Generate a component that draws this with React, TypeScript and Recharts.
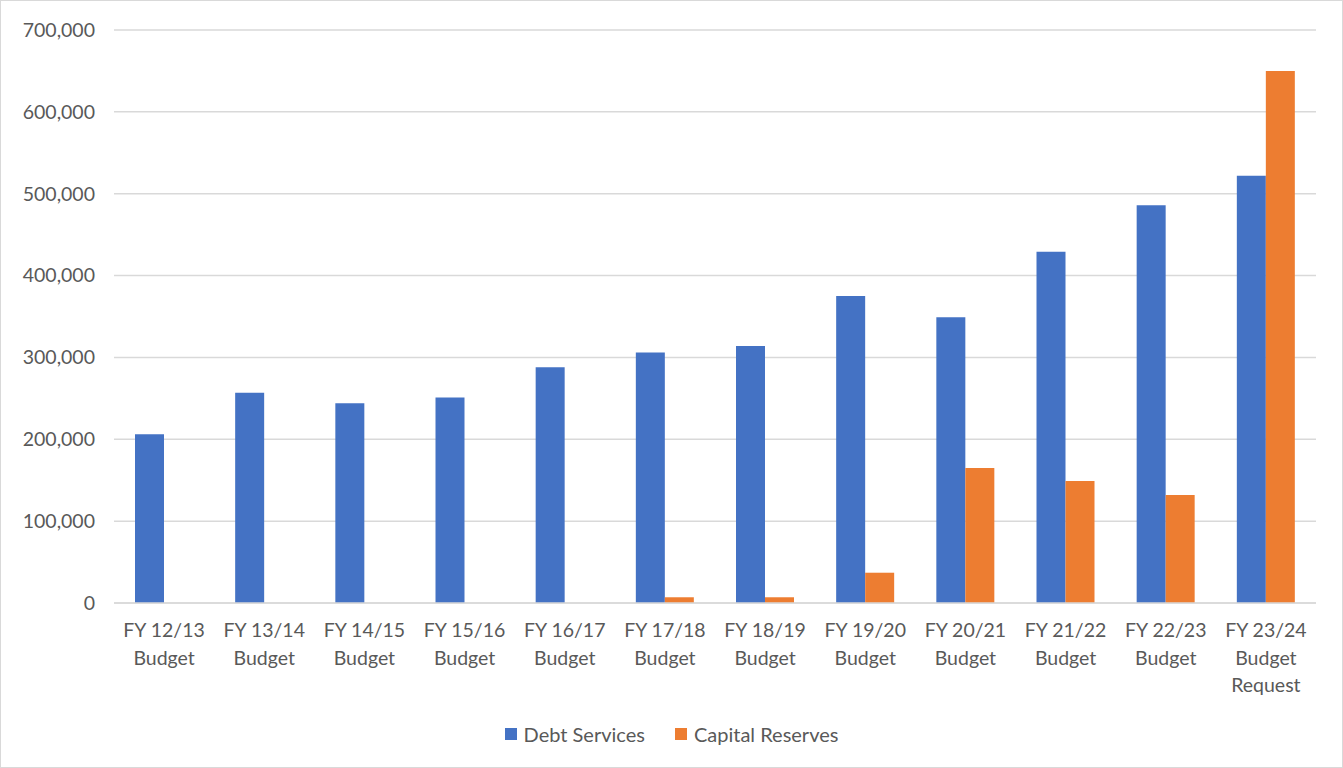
import { BarChart, Bar, XAxis, YAxis, CartesianGrid } from 'recharts';

// ── Data ──────────────────────────────────────────────────────────────────────

const CATEGORIES = [
  'FY 12/13\nBudget',
  'FY 13/14\nBudget',
  'FY 14/15\nBudget',
  'FY 15/16\nBudget',
  'FY 16/17\nBudget',
  'FY 17/18\nBudget',
  'FY 18/19\nBudget',
  'FY 19/20\nBudget',
  'FY 20/21\nBudget',
  'FY 21/22\nBudget',
  'FY 22/23\nBudget',
  'FY 23/24\nBudget\nRequest',
];

const DEBT_SERVICES = [
  206000, 257000, 244000, 251000, 288000, 306000,
  314000, 375000, 349000, 429000, 486000, 522000,
];

const CAPITAL_RESERVES = [
  0, 0, 0, 0, 0, 7000,
  7000, 37000, 165000, 149000, 132000, 650000,
];

const Y_TICKS = [0, 100000, 200000, 300000, 400000, 500000, 600000, 700000];

const SERIES = [
  { key: 'debt', label: 'Debt Services', color: '#4472C4' },
  { key: 'capital', label: 'Capital Reserves', color: '#ED7D31' },
];

const data = CATEGORIES.map((c, i) => ({
  name: c,
  debt: DEBT_SERVICES[i],
  capital: CAPITAL_RESERVES[i],
}));

// ── Styles ────────────────────────────────────────────────────────────────────

const FONT = 'Lato, "Open Sans", sans-serif';
const TEXT = '#595959';
const GRID = '#d9d9d9';

const fmt = (v: number) => v.toLocaleString('en-US');

// ── Custom x tick (multi-line labels) ─────────────────────────────────────────

const CategoryTick = ({ x, y, payload }: any) => {
  const lines = String(payload.value).split('\n');
  return (
    <text x={x} y={y} textAnchor="middle" fill={TEXT} fontSize={19.5} fontFamily={FONT}>
      {lines.map((l, i) => (
        <tspan key={i} x={x} dy={i === 0 ? 26 : 27.5}>
          {l}
        </tspan>
      ))}
    </text>
  );
};

// ── Component ─────────────────────────────────────────────────────────────────

export default function App() {
  return (
    <div
      style={{
        position: 'relative',
        width: 1341,
        height: 766,
        border: `1px solid ${GRID}`,
        background: '#fff',
        fontFamily: FONT,
      }}
    >
      <style>{'body { margin: 0; }'}</style>
      <BarChart
        width={1341}
        height={766}
        data={data}
        margin={{ top: 29, right: 26, left: 0, bottom: 0 }}
        barGap={0}
        barCategoryGap="20%"
      >
        <CartesianGrid vertical={false} stroke={GRID} strokeWidth={1.5} />
        <XAxis
          dataKey="name"
          interval={0}
          height={164}
          tick={<CategoryTick />}
          tickLine={false}
          axisLine={{ stroke: GRID, strokeWidth: 1.5 }}
        />
        <YAxis
          domain={[0, 700000]}
          ticks={Y_TICKS}
          tickFormatter={fmt}
          width={113}
          axisLine={false}
          tickLine={false}
          tickMargin={13}
          tick={{ fill: TEXT, fontSize: 19.5, fontFamily: FONT }}
        />
        {SERIES.map((s) => (
          <Bar
            key={s.key}
            dataKey={s.key}
            name={s.label}
            fill={s.color}
            barSize={29}
            isAnimationActive={false}
          />
        ))}
      </BarChart>

      {/* Legend */}
      <div
        style={{
          position: 'absolute',
          top: 721,
          left: 0,
          width: 1341,
          display: 'flex',
          justifyContent: 'center',
          gap: 30,
          boxSizing: 'border-box',
          color: TEXT,
          fontSize: 20,
        }}
      >
        {SERIES.map((s) => (
          <div key={s.key} style={{ display: 'flex', alignItems: 'center', gap: 7 }}>
            <span style={{ width: 12, height: 12, background: s.color, display: 'inline-block' }} />
            <span>{s.label}</span>
          </div>
        ))}
      </div>
    </div>
  );
}
